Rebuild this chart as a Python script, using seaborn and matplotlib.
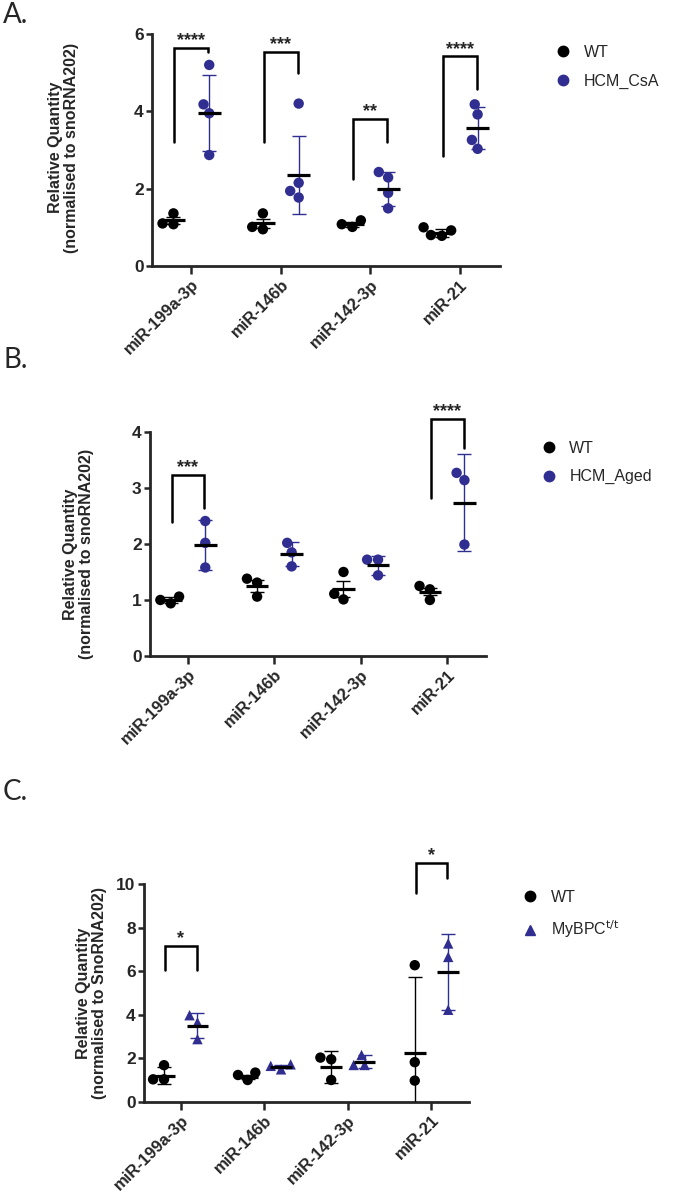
import numpy as np
import pandas as pd
import matplotlib.pyplot as plt
import seaborn as sns
from matplotlib.lines import Line2D

sns.set_style('ticks')
plt.rcParams['font.family'] = ['Liberation Sans', 'DejaVu Sans']

mirnas = ['miR-199a-3p', 'miR-146b', 'miR-142-3p', 'miR-21']
blue = '#312E91'

# Panel A: WT vs HCM_CsA
a_groups = ['WT', 'HCM_CsA']
a_wt = [[1.36, 1.08, 1.10], [1.36, 0.95, 1.01], [1.01, 1.18, 1.08], [0.78, 0.80, 0.92, 1.00]]
a_wt_mean = [1.18, 1.10, 1.08, 0.86]
a_wt_sd = [0.09, 0.12, 0.06, 0.10]
a_hcm = [[5.20, 4.18, 3.95, 2.87], [4.20, 2.15, 1.94, 1.77], [2.29, 2.43, 1.89, 1.49], [4.18, 3.92, 3.26, 3.03]]
a_hcm_mean = [3.96, 2.35, 1.99, 3.57]
a_hcm_sd = [0.98, 1.00, 0.44, 0.54]
# significance brackets: category, top, left leg end, right leg end, label
a_sig = [(0, 5.64, 3.21, 5.54, '****'), (1, 5.54, 3.21, 5.00, '***'),
         (2, 3.80, 2.24, 3.21, '**'), (3, 5.42, 2.85, 4.57, '****')]

# Panel B: WT vs HCM_Aged
b_groups = ['WT', 'HCM_Aged']
b_wt = [[0.94, 1.06, 1.00], [1.38, 1.31, 1.06], [1.50, 1.01, 1.11], [1.25, 1.19, 1.00]]
b_wt_mean = [1.00, 1.25, 1.20, 1.15]
b_wt_sd = [0.05, 0.11, 0.14, 0.07]
b_hcm = [[2.41, 2.02, 1.58], [2.02, 1.85, 1.60], [1.72, 1.72, 1.44], [3.27, 3.14, 1.99]]
b_hcm_mean = [1.98, 1.82, 1.62, 2.74]
b_hcm_sd = [0.45, 0.22, 0.17, 0.87]
b_sig = [(0, 3.23, 2.40, 2.65, '***'), (3, 4.23, 2.82, 3.71, '****')]

# Panel C: WT vs MyBPC t/t
c_groups = ['WT', r'MyBPC$^{\mathrm{t/t}}$']
c_wt = [[1.68, 1.03, 1.03], [1.00, 1.34, 1.23], [2.03, 1.95, 1.00], [6.28, 1.82, 0.97]]
c_wt_mean = [1.20, 1.15, 1.60, 2.25]
c_wt_sd = [0.40, 0.10, 0.75, 3.50]
c_mut = [[3.98, 3.65, 2.88], [1.49, 1.72, 1.65], [2.15, 1.69, 1.69], [7.28, 6.66, 4.23]]
c_mut_mean = [3.50, 1.62, 1.85, 5.95]
c_mut_sd = [0.58, 0.07, 0.30, 1.75]
c_sig = [(0, 7.15, 6.08, 6.08, '*'), (3, 11.0, 9.58, 10.28, '*')]


def draw_panel(rect, groups, pts, means, sds, markers, sig, ymax, ystep,
               ylabel, label_xy, legend_xy):
    ax = fig.add_axes(rect)
    colors = ['black', blue]
    pal = dict(zip(groups, colors))
    rows = []
    for g, gp in zip(groups, pts):
        for name, vals in zip(mirnas, gp):
            for v in vals:
                rows.append((g, name, v))
    df = pd.DataFrame(rows, columns=['group', 'mirna', 'value'])
    for g, m in zip(groups, markers):
        sns.swarmplot(data=df[df.group == g], x='mirna', y='value', hue='group',
                      hue_order=groups, order=mirnas, dodge=True, palette=pal,
                      marker=m, size=7.5, linewidth=0, ax=ax, legend=False, zorder=2)
    offs = [-0.2, 0.2]
    for off, c, mu, sd in zip(offs, colors, means, sds):
        x = np.arange(len(mirnas)) + off
        ax.errorbar(x, mu, yerr=sd, fmt='none', ecolor=c, elinewidth=1.0,
                    capsize=5, capthick=1.0, zorder=3)
        ax.hlines(mu, x - 0.13, x + 0.13, color='black', lw=2.3, zorder=4)
    for i, top, lb, rb, txt in sig:
        x0, x1 = i - 0.19, i + 0.19
        ax.plot([x0, x0, x1, x1], [lb, top, top, rb], color='black', lw=1.8,
                clip_on=False, solid_joinstyle='miter')
        ax.annotate(txt, xy=((x0 + x1) / 2, top), xytext=(0, 2), textcoords='offset points',
                    ha='center', va='baseline', fontsize=13, fontweight='bold',
                    annotation_clip=False)
    ax.set_xlim(-0.44, 3.45)
    ax.set_ylim(0, ymax)
    ax.set_yticks(np.arange(0, ymax + 0.1, ystep))
    ax.set_xlabel('')
    ax.set_ylabel(ylabel, fontsize=11.5, fontweight='bold', linespacing=1.1)
    ax.yaxis.set_label_coords(*label_xy)
    sns.despine(ax=ax)
    for s in ['left', 'bottom']:
        ax.spines[s].set_linewidth(2.0)
    ax.tick_params(axis='x', length=6, width=1.8, pad=2)
    ax.tick_params(axis='y', length=4, width=1.8, pad=2, labelsize=12.5)
    for t in ax.get_yticklabels():
        t.set_fontweight('bold')
    ax.set_xticks(range(len(mirnas)))
    ax.set_xticklabels(mirnas, rotation=45, ha='right', rotation_mode='anchor',
                       fontsize=12, fontweight='bold')
    handles = [Line2D([], [], ls='none', marker=m, color=c, markersize=7.5)
               for m, c in zip(markers, colors)]
    ax.legend(handles, groups, loc='center left', bbox_to_anchor=legend_xy,
              frameon=False, fontsize=11.5, handlelength=0.8, handletextpad=0.9,
              labelspacing=0.85, borderpad=0, borderaxespad=0)
    return ax


fig = plt.figure(figsize=(6.83, 11.97), dpi=100)
ylab = 'Relative Quantity\n(normalised to snoRNA202)'

draw_panel([0.2225, 0.7778, 0.5095, 0.1938], a_groups, [a_wt, a_hcm],
           [a_wt_mean, a_hcm_mean], [a_wt_sd, a_hcm_sd], ['o', 'o'], a_sig,
           6, 2, ylab, (-0.21, 0.51), (1.164, 0.858))
draw_panel([0.2196, 0.4520, 0.4920, 0.1871], b_groups, [b_wt, b_hcm],
           [b_wt_mean, b_hcm_mean], [b_wt_sd, b_hcm_sd], ['o', 'o'], b_sig,
           4, 1, ylab, (-0.167, 0.455), (1.167, 0.864))
draw_panel([0.2108, 0.0796, 0.4760, 0.1816], c_groups, [c_wt, c_mut],
           [c_wt_mean, c_mut_mean], [c_wt_sd, c_mut_sd], ['o', '^'], c_sig,
           10, 2, 'Relative Quantity\n(normalised to SnoRNA202)', (-0.114, 0.5),
           (1.169, 0.859))

for txt, y in [('A.', 15), ('B.', 360), ('C.', 792)]:
    fig.text(3 / 683, 1 - y / 1197, txt, fontsize=20, family='Lato', va='center', ha='left')

fig.savefig('out.png', dpi=100)
